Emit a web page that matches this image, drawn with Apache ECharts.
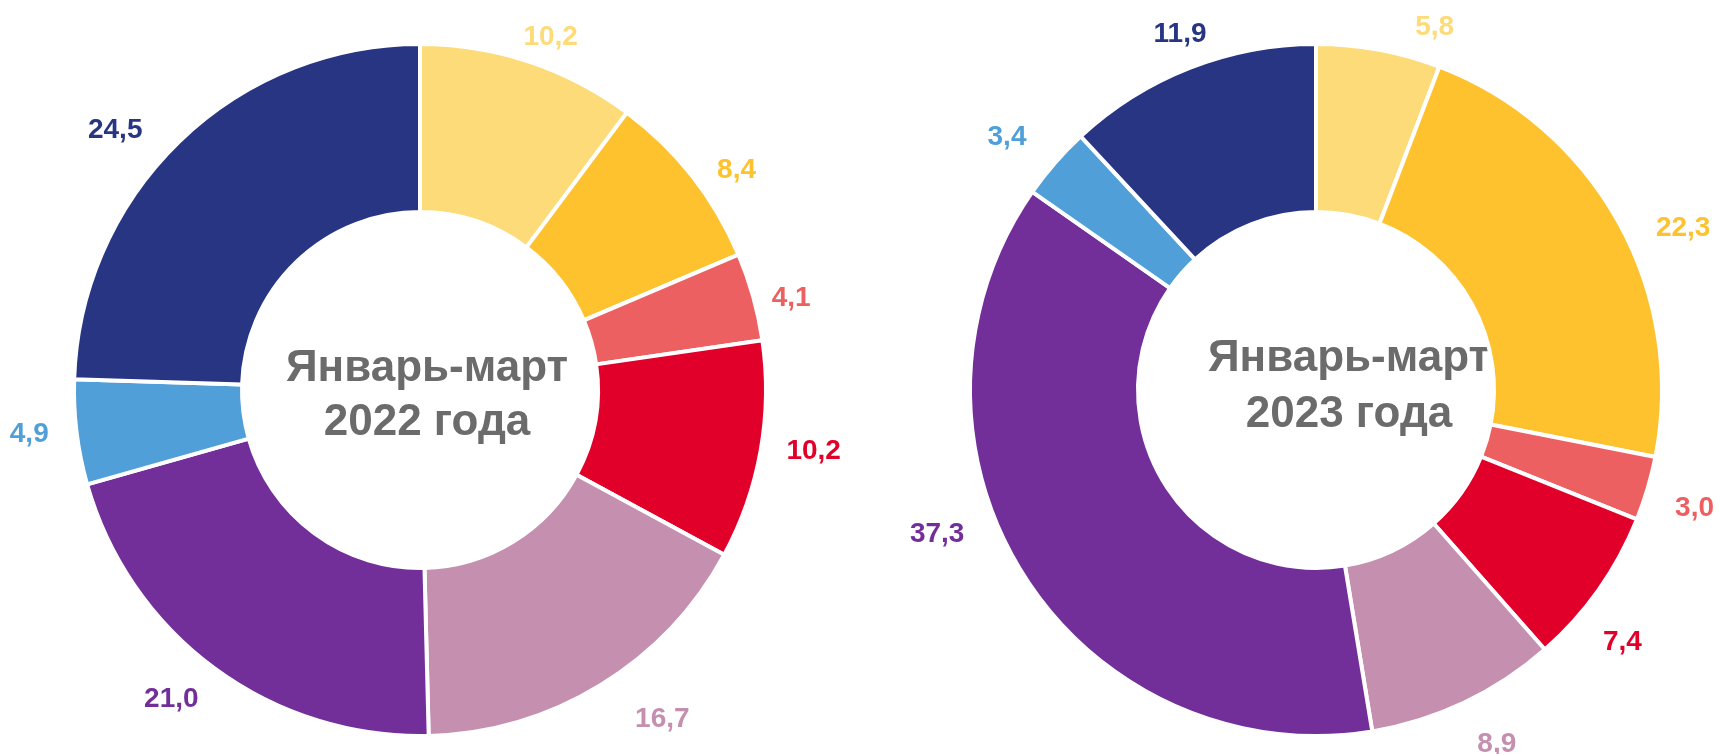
<!DOCTYPE html>
<html>
<head>
<meta charset="utf-8">
<script src="https://cdn.jsdelivr.net/npm/echarts@6/dist/echarts.min.js"></script>
<style>
  html, body { margin: 0; padding: 0; background: #ffffff; }
  #chart { width: 1716px; height: 754px; }
</style>
</head>
<body>
<div id="chart"></div>
<script>
// структура, %
var colors = ['#FDDB78', '#FEC22F', '#EC6062', '#E1002A', '#C58FB0', '#722F9A', '#519FD8', '#283583'];
var values2022 = [10.2, 8.4, 4.1, 10.2, 16.7, 21.0, 4.9, 24.5];
var values2023 = [5.8, 22.3, 3.0, 7.4, 8.9, 37.3, 3.4, 11.9];
var titles = ['Январь-март\n2022 года', 'Январь-март\n2023 года'];

// сдвиги подписей (как на исходной картинке)
var shift2022 = [[-15, -11], [9, 3], [0, 5], [7, -2], [22, 22], [-3, 19], [-9, 0], [-22, -1]];
var shift2023 = [[29, -9], [20, 13], [9, 16], [-12, 44], [2, 29], [-42, -48], [-13, -16], [27, -21]];

var fmt = function(v) {
	return v.toFixed(1).replace('.', ',');
};

var make_data = function(vals) {
	var out = [];
	for (var i = 0; i < vals.length; i++) {
		out.push({
			value: vals[i],
			itemStyle: { color: colors[i] },
			label: { color: colors[i] }
		});
	}
	return out;
};

var make_series = function(vals, cx, shift) {
	return {
		type: 'pie',
		center: [cx, 390],
		radius: [178, 346],
		startAngle: 90,
		clockwise: true,
		silent: true,
		avoidLabelOverlap: false,
		itemStyle: { borderColor: '#ffffff', borderWidth: 4 },
		label: {
			show: true,
			position: 'outside',
			fontFamily: 'Liberation Sans, Arial, sans-serif',
			fontWeight: 'bold',
			fontSize: 28,
			formatter: function(p) { return fmt(p.value); }
		},
		labelLine: { show: false, length: 14, length2: 0 },
		labelLayout: function(p) {
			var s = shift[p.dataIndex];
			return { dx: s[0], dy: s[1] };
		},
		data: make_data(vals)
	};
};

var myChart = echarts.init(document.getElementById('chart'));
var option = {
	animation: false,
	backgroundColor: '#ffffff',
	graphic: [
		{
			type: 'text', x: 427, y: 396,
			style: {
				text: titles[0], textAlign: 'center', textVerticalAlign: 'middle',
				fill: '#6b6b6b', font: 'bold 44px "Liberation Sans", Arial, sans-serif', lineHeight: 54
			}
		},
		{
			type: 'text', x: 1349, y: 387,
			style: {
				text: titles[1], textAlign: 'center', textVerticalAlign: 'middle',
				fill: '#6b6b6b', font: 'bold 44px "Liberation Sans", Arial, sans-serif', lineHeight: 56
			}
		}
	],
	series: [
		make_series(values2022, 420, shift2022),
		make_series(values2023, 1316, shift2023)
	]
};
myChart.setOption(option);
</script>
</body>
</html>
